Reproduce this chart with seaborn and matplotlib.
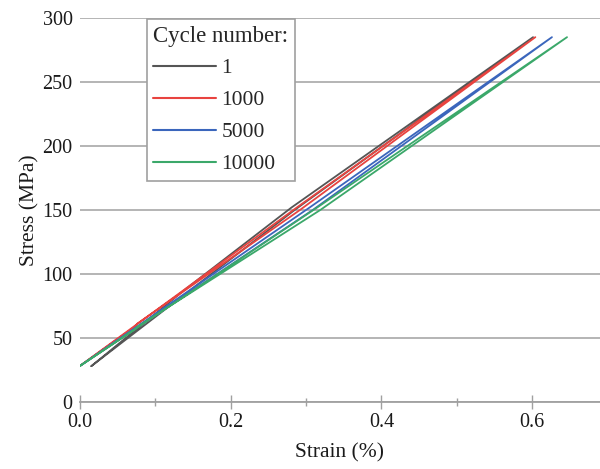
import matplotlib
matplotlib.use("Agg")
import matplotlib.pyplot as plt
import seaborn as sns
import pandas as pd
from matplotlib.ticker import MultipleLocator, FormatStrFormatter

# ---- data ----
cycles = ["1", "1000", "5000", "10000"]

strain_1_load = [0.0155, 0.064, 0.285, 0.601]
stress_1_load = [28, 50, 150, 285]
strain_1_unload = [0.601, 0.281, 0.140, 0.0155]
stress_1_unload = [285, 152, 88, 28]

strain_1000_load = [0.0, 0.074, 0.076, 0.292, 0.604]
stress_1000_load = [28, 59, 61, 150, 285]
strain_1000_unload = [0.604, 0.288, 0.0]
stress_1000_unload = [285, 152, 28]

strain_5000_load = [0.0, 0.309, 0.626]
stress_5000_load = [28, 150, 285]
strain_5000_unload = [0.626, 0.305, 0.0]
stress_5000_unload = [285, 152, 28]

strain_10000_load = [0.0, 0.074, 0.076, 0.319, 0.646]
stress_10000_load = [28, 57, 58.5, 150, 285]
strain_10000_unload = [0.646, 0.315, 0.0]
stress_10000_unload = [285, 152, 28]

colors = ["#555555", "#e8433f", "#3b66bc", "#3ba86a"]

loops = {
    "1": (strain_1_load + strain_1_unload, stress_1_load + stress_1_unload),
    "1000": (strain_1000_load + strain_1000_unload, stress_1000_load + stress_1000_unload),
    "5000": (strain_5000_load + strain_5000_unload, stress_5000_load + stress_5000_unload),
    "10000": (strain_10000_load + strain_10000_unload, stress_10000_load + stress_10000_unload),
}

rows = []
for c in cycles:
    xs, ys = loops[c]
    for i, (x, y) in enumerate(zip(xs, ys)):
        rows.append({"cycle": c, "order": i, "strain": x, "stress": y})
df = pd.DataFrame(rows)

sns.set_theme(style="white")
plt.rcParams["font.family"] = ["Liberation Serif", "DejaVu Serif"]

fig = plt.figure(figsize=(6.0, 4.69), dpi=100)
ax = fig.add_axes([0.1327, 0.1429, 0.8673, 0.8188])

sns.lineplot(data=df, x="strain", y="stress", hue="cycle", hue_order=cycles,
             palette=colors, sort=False, estimator=None, linewidth=1.3, ax=ax)

ax.set_xlim(0, 0.6897)
ax.set_ylim(0, 300)
ax.xaxis.set_major_locator(MultipleLocator(0.2))
ax.xaxis.set_minor_locator(MultipleLocator(0.1))
ax.yaxis.set_major_locator(MultipleLocator(50))
ax.xaxis.set_major_formatter(FormatStrFormatter("%.1f"))

for s in ["top", "right", "left"]:
    ax.spines[s].set_visible(False)
ax.spines["bottom"].set_color("#a0a0a0")
ax.spines["bottom"].set_linewidth(1.3)

ax.yaxis.grid(True, color="#a8a8a8", linewidth=1.2)
ax.get_ygridlines()[-1].set_visible(False)
ax.get_ygridlines()[0].set_visible(False)
ax.set_axisbelow(True)

ax.tick_params(axis="x", which="major", direction="inout", length=10, width=1,
               color="#a0a0a0", labelsize=14.5, pad=3, bottom=True)
ax.tick_params(axis="x", which="minor", direction="inout", length=6, width=1,
               color="#a0a0a0", bottom=True)
ax.tick_params(axis="y", which="major", length=0, labelsize=14.5, pad=5)
for lab in ax.get_xticklabels() + ax.get_yticklabels():
    lab.set_color("#1a1a1a")

ax.set_xlabel("Strain (%)", fontsize=15.5, color="#1a1a1a", labelpad=8)
ax.set_ylabel("Stress (MPa)", fontsize=15.5, color="#1a1a1a", labelpad=2)

leg = ax.legend(title="Cycle number:", loc="upper left", bbox_to_anchor=(0.1295, 0.997),
                frameon=True, fancybox=False, fontsize=15.5, title_fontsize=16.5,
                handlelength=2.9, handletextpad=0.25, borderpad=0.3,
                labelspacing=0.55, borderaxespad=0.0)
leg.get_frame().set_edgecolor("#a0a0a0")
leg.get_frame().set_linewidth(1.2)
leg.get_frame().set_alpha(1.0)
leg._legend_box.align = "left"
for line in leg.get_lines():
    line.set_linewidth(1.5)

fig.savefig("out.png", dpi=100)
